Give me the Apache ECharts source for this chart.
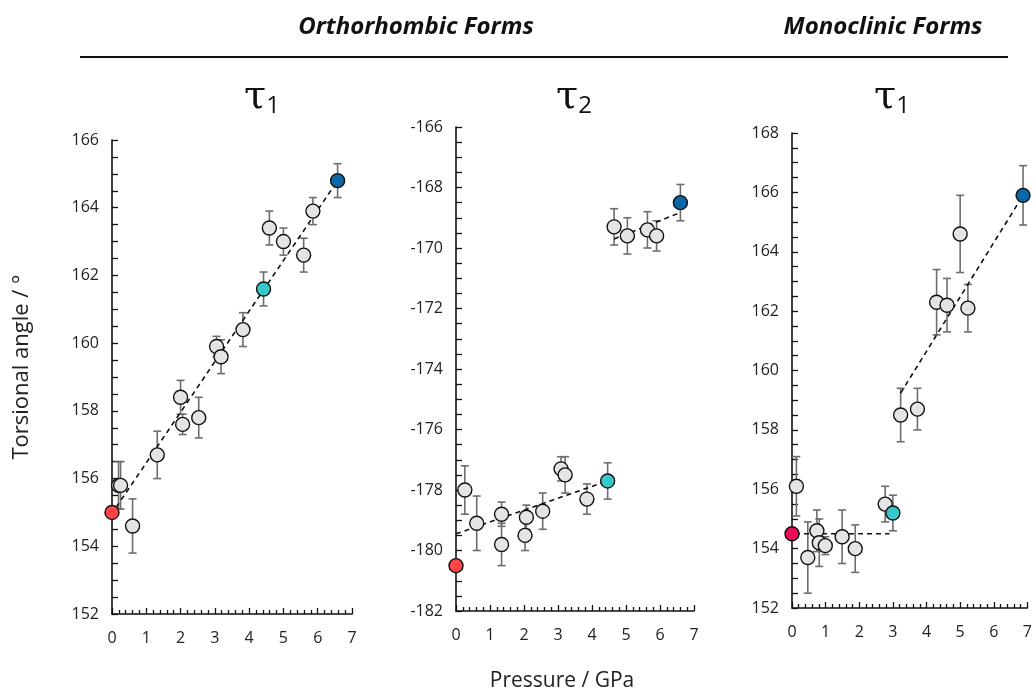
<!DOCTYPE html>
<html>
<head>
<meta charset="utf-8">
<script src="https://cdn.jsdelivr.net/npm/echarts@6/dist/echarts.min.js"></script>
<style>html,body{margin:0;padding:0;background:#fff;}#c{width:1035px;height:693px;}</style>
</head>
<body>
<div id="c"></div>
<script>
// ---------- DATA ----------
// Panel A: Orthorhombic tau1 (x = pressure GPa, y = angle, e = error)
const orthoT1_x = [0.19, 0.25, 0.60, 1.32, 2.00, 2.06, 2.53, 3.05, 3.18, 3.82, 4.59, 5.00, 5.59, 5.86];
const orthoT1_y = [155.8, 155.8, 154.6, 156.7, 158.4, 157.6, 157.8, 159.9, 159.6, 160.4, 163.4, 163.0, 162.6, 163.9];
const orthoT1_e = [0.7, 0.7, 0.8, 0.7, 0.5, 0.3, 0.6, 0.3, 0.5, 0.5, 0.5, 0.4, 0.5, 0.4];
const orthoT1_start = [0, 155.0, 0];      // x, y, err (red, ambient)
const orthoT1_mid = [4.42, 161.6, 0.5];   // cyan
const orthoT1_end = [6.58, 164.8, 0.5];   // dark blue
const orthoT1_fit = [[0.12, 155.15], [6.58, 164.8]];

// Panel B: Orthorhombic tau2
const orthoT2_x = [0.26, 0.61, 1.34, 1.34, 2.07, 2.03, 2.55, 3.09, 3.21, 3.85, 4.65, 5.04, 5.63, 5.90];
const orthoT2_y = [-178.0, -179.1, -178.8, -179.8, -178.9, -179.5, -178.7, -177.3, -177.5, -178.3, -169.3, -169.6, -169.4, -169.6];
const orthoT2_e = [0.8, 0.9, 0.4, 0.7, 0.4, 0.5, 0.6, 0.4, 0.6, 0.5, 0.6, 0.6, 0.6, 0.5];
const orthoT2_start = [0, -180.5, 0];
const orthoT2_mid = [4.46, -177.7, 0.6];
const orthoT2_end = [6.60, -168.5, 0.6];
const orthoT2_fitLow = [[0, -179.45], [4.46, -177.7]];
const orthoT2_fitHigh = [[4.65, -169.7], [6.55, -168.85]];

// Panel C: Monoclinic tau1
const monoT1_x = [0.13, 0.47, 0.74, 0.81, 0.99, 1.49, 1.88, 2.77, 3.23, 3.73, 4.30, 4.61, 5.00, 5.23];
const monoT1_y = [156.1, 153.7, 154.6, 154.2, 154.1, 154.4, 154.0, 155.5, 158.5, 158.7, 162.3, 162.2, 164.6, 162.1];
const monoT1_e = [1.0, 1.2, 0.7, 0.8, 0.3, 0.9, 0.8, 0.6, 0.9, 0.7, 1.1, 0.9, 1.3, 0.8];
const monoT1_start = [0, 154.5, 0];
const monoT1_mid = [3.00, 155.2, 0.6];
const monoT1_end = [6.87, 165.9, 1.0];
const monoT1_fitLow = [[0.09, 154.5], [2.90, 154.5]];
const monoT1_fitHigh = [[3.23, 159.24], [6.87, 165.9]];

const xTicks = [0, 1, 2, 3, 4, 5, 6, 7];

// ---------- STYLE ----------
const GREY = '#e4e4e4', RED = '#ff4545', RED2 = '#ee0a5a', CYAN = '#35c9cc', BLUE = '#0b67a5';
const FONT = 'Open Sans';

const chart = echarts.init(document.getElementById('c'), null, {renderer: 'canvas'});

function xAxisDef(gi) {
  return {
    gridIndex: gi, type: 'value', min: 0, max: 7, interval: 1,
    axisLine: {lineStyle: {color: '#111', width: 1.6}},
    axisTick: {inside: true, length: 6, lineStyle: {color: '#111', width: 1.3}},
    minorTick: {show: true, splitNumber: 5, length: 4, lineStyle: {color: '#111', width: 1.3}},
    axisLabel: {color: '#222', fontFamily: FONT, fontSize: 16, margin: 16,
      formatter: v => xTicks.indexOf(v) >= 0 ? String(v) : ''},
    splitLine: {show: false}
  };
}
function yAxisDef(gi, min, max) {
  return {
    gridIndex: gi, type: 'value', min: min, max: max, interval: 2,
    axisLine: {show: true, lineStyle: {color: '#111', width: 1.6}},
    axisTick: {show: true, inside: true, length: 6, lineStyle: {color: '#111', width: 1.3}},
    minorTick: {show: true, splitNumber: 4, length: 6, lineStyle: {color: '#111', width: 1.3}},
    axisLabel: {color: '#222', fontFamily: FONT, fontSize: 16, margin: 13},
    splitLine: {show: false}
  };
}

function errData(xs, ys, es, extra) {
  const d = xs.map((x, i) => [x, ys[i] - es[i], ys[i] + es[i]]);
  extra.forEach(p => { if (p[2] > 0) d.push([p[0], p[1] - p[2], p[1] + p[2]]); });
  return d;
}
function errSeries(gi, data) {
  return {
    type: 'custom', xAxisIndex: gi, yAxisIndex: gi, z: 1, clip: false,
    data: data,
    renderItem: function (params, api) {
      const x = api.value(0);
      const lo = api.coord([x, api.value(1)]);
      const hi = api.coord([x, api.value(2)]);
      const cw = 4;
      const st = {stroke: '#6d6d6d', lineWidth: 1.6};
      return {type: 'group', children: [
        {type: 'line', shape: {x1: lo[0], y1: lo[1], x2: hi[0], y2: hi[1]}, style: st},
        {type: 'line', shape: {x1: lo[0] - cw, y1: lo[1], x2: lo[0] + cw, y2: lo[1]}, style: st},
        {type: 'line', shape: {x1: hi[0] - cw, y1: hi[1], x2: hi[0] + cw, y2: hi[1]}, style: st}
      ]};
    }
  };
}
function fitSeries(gi, data) {
  return {
    type: 'line', xAxisIndex: gi, yAxisIndex: gi, z: 2, data: data, symbol: 'none',
    lineStyle: {color: '#111', width: 1.6, type: [5, 4]}, silent: true, animation: false
  };
}
function ptSeries(gi, data, color) {
  return {
    type: 'scatter', xAxisIndex: gi, yAxisIndex: gi, z: 3, symbolSize: 14, clip: false,
    data: data,
    itemStyle: {color: color, borderColor: '#111', borderWidth: 1.4, opacity: 1}
  };
}
function zip(xs, ys) { return xs.map((x, i) => [x, ys[i]]); }

const series = [
  errSeries(0, errData(orthoT1_x, orthoT1_y, orthoT1_e, [orthoT1_start, orthoT1_mid, orthoT1_end])),
  fitSeries(0, orthoT1_fit),
  ptSeries(0, zip(orthoT1_x, orthoT1_y), GREY),
  ptSeries(0, [orthoT1_start.slice(0, 2)], RED),
  ptSeries(0, [orthoT1_mid.slice(0, 2)], CYAN),
  ptSeries(0, [orthoT1_end.slice(0, 2)], BLUE),

  errSeries(1, errData(orthoT2_x, orthoT2_y, orthoT2_e, [orthoT2_start, orthoT2_mid, orthoT2_end])),
  fitSeries(1, orthoT2_fitLow),
  fitSeries(1, orthoT2_fitHigh),
  ptSeries(1, zip(orthoT2_x, orthoT2_y), GREY),
  ptSeries(1, [orthoT2_start.slice(0, 2)], RED),
  ptSeries(1, [orthoT2_mid.slice(0, 2)], CYAN),
  ptSeries(1, [orthoT2_end.slice(0, 2)], BLUE),

  errSeries(2, errData(monoT1_x, monoT1_y, monoT1_e, [monoT1_start, monoT1_mid, monoT1_end])),
  fitSeries(2, monoT1_fitLow),
  fitSeries(2, monoT1_fitHigh),
  ptSeries(2, zip(monoT1_x, monoT1_y), GREY),
  ptSeries(2, [monoT1_start.slice(0, 2)], RED2),
  ptSeries(2, [monoT1_mid.slice(0, 2)], CYAN),
  ptSeries(2, [monoT1_end.slice(0, 2)], BLUE)
];

function txt(x, y, text, size, opts) {
  return Object.assign({type: 'text', x: x, y: y, style: Object.assign({
    text: text, fontSize: size, fontFamily: FONT, fill: '#111', align: 'center', verticalAlign: 'middle'
  }, opts || {})});
}
function tau(cx, sub) {
  return [
    txt(cx - 7, 98, 'τ', 40, {fontFamily: 'DejaVu Serif'}),
    txt(cx + 11, 106, sub, 24)
  ];
}

const g = [
  txt(416, 27, 'Orthorhombic Forms', 24, {fontWeight: 'bold', fontStyle: 'italic'}),
  txt(883, 27, 'Monoclinic Forms', 24, {fontWeight: 'bold', fontStyle: 'italic'}),
  {type: 'line', shape: {x1: 80, y1: 57, x2: 1008, y2: 57}, style: {stroke: '#111', lineWidth: 2}},
  ...tau(262, '1'), ...tau(574, '2'), ...tau(892, '1'),
  txt(562, 681, 'Pressure / GPa', 21, {fill: '#222'})
];
const yName = txt(22, 367, 'Torsional angle / °', 22, {fill: '#222'});
yName.rotation = Math.PI / 2;
g.push(yName);

chart.setOption({
  animation: false,
  backgroundColor: '#fff',
  grid: [
    {left: 112, top: 140, width: 240, height: 474},
    {left: 456, top: 127, width: 238, height: 484},
    {left: 792, top: 133, width: 240, height: 475}
  ],
  xAxis: [xAxisDef(0), xAxisDef(1), xAxisDef(2)],
  yAxis: [yAxisDef(0, 152, 166), yAxisDef(1, -182, -166), yAxisDef(2, 152, 168)],
  series: series,
  graphic: g
});
</script>
</body>
</html>
